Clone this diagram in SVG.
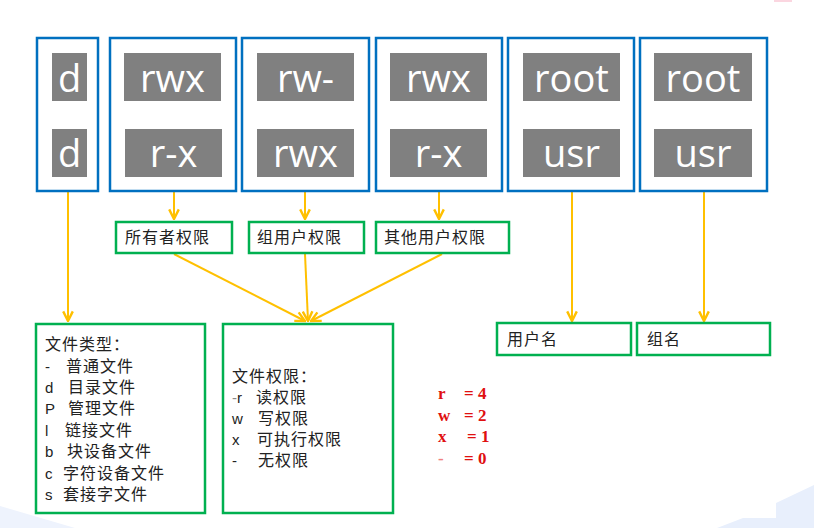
<svg xmlns="http://www.w3.org/2000/svg" width="814" height="528" viewBox="0 0 814 528">
<style>
.blue{fill:#fff;stroke:#0070C0;stroke-width:2.5}
.gray{fill:#808080}
.gt{font-family:"Open Sans","Liberation Sans",sans-serif;font-size:38px;fill:#fff;text-anchor:middle}
.green{fill:#fff;stroke:#00B050;stroke-width:2.5}
.cn{font-family:"Liberation Sans","Noto Sans CJK SC",sans-serif;font-size:16px;fill:#222;letter-spacing:1px}
.lt{font-family:"Liberation Sans","Noto Sans CJK SC",sans-serif;font-size:15px;fill:#222}
.red{font-family:"Liberation Serif",serif;font-size:17px;font-weight:bold;fill:#e01010}
.conn{stroke:#FFC000;stroke-width:2;fill:none;marker-end:url(#ah)}
</style>
<defs>
<marker id="ah" markerWidth="12" markerHeight="12" refX="9" refY="5" orient="auto" markerUnits="userSpaceOnUse" viewBox="0 0 10 10">
<path d="M1,1 L9,5 L1,9" fill="none" stroke="#FFC000" stroke-width="2"/>
</marker>
</defs>
<rect width="814" height="528" fill="#fff"/>
<polygon points="717,528 743,518 776,518 776,503 814,485 814,528" fill="#e8effc"/>
<polygon points="0,506 0,528 75,528" fill="#eef3fd"/>
<rect x="774" y="0" width="18" height="2" fill="#fbd6e0"/>

<g id="connectors">
<line class="conn" x1="68" y1="192" x2="68" y2="321"/>
<line class="conn" x1="174" y1="192" x2="174" y2="219"/>
<line class="conn" x1="305" y1="192" x2="305" y2="219"/>
<line class="conn" x1="439" y1="192" x2="439" y2="219"/>
<line class="conn" x1="572" y1="192" x2="572" y2="321"/>
<line class="conn" x1="704" y1="192" x2="704" y2="321"/>
<line class="conn" x1="174" y1="254" x2="305" y2="321"/>
<line class="conn" x1="305" y1="254" x2="308" y2="321"/>
<line class="conn" x1="442" y1="254" x2="311" y2="321"/>
</g>

<g id="n-type">
<rect class="blue" x="37" y="38" width="61" height="153"/>
<rect class="gray" x="52" y="53" width="35" height="48"/>
<rect class="gray" x="52" y="129" width="35" height="48"/>
<text class="gt" x="69.5" y="92">d</text>
<text class="gt" x="69.5" y="167">d</text>
</g>
<g id="n-owner">
<rect class="blue" x="110" y="38" width="126" height="153"/>
<rect class="gray" x="124" y="53" width="97" height="48"/>
<rect class="gray" x="125" y="129" width="97" height="48"/>
<text class="gt" x="172.5" y="92">rwx</text>
<text class="gt" x="173.5" y="167">r-x</text>
</g>
<g id="n-group">
<rect class="blue" x="242" y="38" width="127" height="153"/>
<rect class="gray" x="257" y="53" width="97" height="48"/>
<rect class="gray" x="257" y="129" width="97" height="48"/>
<text class="gt" x="305.5" y="92">rw-</text>
<text class="gt" x="305.5" y="167">rwx</text>
</g>
<g id="n-other">
<rect class="blue" x="376" y="38" width="126" height="153"/>
<rect class="gray" x="390" y="53" width="97" height="48"/>
<rect class="gray" x="390" y="129" width="97" height="48"/>
<text class="gt" x="438.5" y="92">rwx</text>
<text class="gt" x="438.5" y="167">r-x</text>
</g>
<g id="n-user">
<rect class="blue" x="508" y="38" width="126" height="153"/>
<rect class="gray" x="523" y="53" width="97" height="48"/>
<rect class="gray" x="523" y="129" width="97" height="48"/>
<text class="gt" x="571.5" y="92">root</text>
<text class="gt" x="571.5" y="167">usr</text>
</g>
<g id="n-grp">
<rect class="blue" x="640" y="38" width="127" height="153"/>
<rect class="gray" x="654" y="53" width="98" height="48"/>
<rect class="gray" x="654" y="129" width="98" height="48"/>
<text class="gt" x="703" y="92">root</text>
<text class="gt" x="703" y="167">usr</text>
</g>

<g id="l-owner">
<rect class="green" x="116" y="222" width="116" height="31"/>
<text class="cn" x="125" y="243">所有者权限</text>
</g>
<g id="l-group">
<rect class="green" x="249" y="222" width="115" height="31"/>
<text class="cn" x="257" y="243">组用户权限</text>
</g>
<g id="l-other">
<rect class="green" x="376" y="222" width="133" height="31"/>
<text class="cn" x="384" y="243">其他用户权限</text>
</g>

<g id="b-type">
<rect class="green" x="36" y="324" width="169" height="189"/>
<text class="cn" x="45" y="350">文件类型：</text>
<text class="lt" x="45" y="372">-</text><text class="cn" x="66" y="372">普通文件</text>
<text class="lt" x="45" y="393">d</text><text class="cn" x="68" y="393">目录文件</text>
<text class="lt" x="45" y="414">P</text><text class="cn" x="68" y="414">管理文件</text>
<text class="lt" x="45" y="436">l</text><text class="cn" x="65" y="436">链接文件</text>
<text class="lt" x="45" y="457">b</text><text class="cn" x="67" y="457">块设备文件</text>
<text class="lt" x="45" y="479">c</text><text class="cn" x="63" y="479">字符设备文件</text>
<text class="lt" x="45" y="500">s</text><text class="cn" x="63" y="500">套接字文件</text>
</g>
<g id="b-perm">
<rect class="green" x="223" y="324" width="170" height="189"/>
<text class="cn" x="232" y="382">文件权限：</text>
<text class="lt" x="232" y="403"><tspan fill="#888">-</tspan>r</text><text class="cn" x="256" y="403">读权限</text>
<text class="lt" x="232" y="424">w</text><text class="cn" x="258" y="424">写权限</text>
<text class="lt" x="232" y="445">x</text><text class="cn" x="257" y="445">可执行权限</text>
<text class="lt" x="232" y="466">-</text><text class="cn" x="258" y="466">无权限</text>
</g>
<g id="b-user">
<rect class="green" x="497" y="323" width="134" height="32"/>
<text class="cn" x="507" y="345">用户名</text>
</g>
<g id="b-grp">
<rect class="green" x="637" y="323" width="133" height="32"/>
<text class="cn" x="647" y="345">组名</text>
</g>

<g id="values">
<text class="red" x="438" y="399">r</text><text class="red" x="464" y="399">= 4</text>
<text class="red" x="438" y="421">w</text><text class="red" x="464" y="421">= 2</text>
<text class="red" x="438" y="442">x</text><text class="red" x="467" y="442">= 1</text>
<text class="red" x="438" y="464" fill="#f08080" style="fill:#f08080">-</text><text class="red" x="464" y="464">= 0</text>
</g>
</svg>
